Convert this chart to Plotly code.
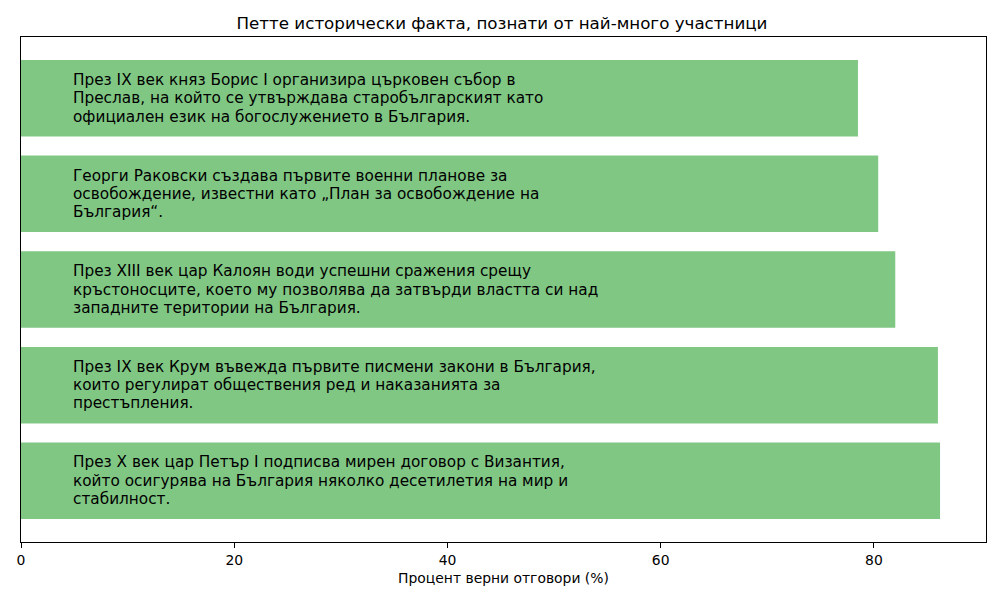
import plotly.graph_objects as go

title = "Петте исторически факта, познати от най-много участници"
x_label = "Процент верни отговори (%)"

# top-to-bottom order as shown
facts = [
    "През IX век княз Борис I организира църковен събор в<br>Преслав, на който се утвърждава старобългарският като<br>официален език на богослужението в България.",
    "Георги Раковски създава първите военни планове за<br>освобождение, известни като „План за освобождение на<br>България“.",
    "През XIII век цар Калоян води успешни сражения срещу<br>кръстоносците, което му позволява да затвърди властта си над<br>западните територии на България.",
    "През IX век Крум въвежда първите писмени закони в България,<br>които регулират обществения ред и наказанията за<br>престъпления.",
    "През X век цар Петър I подписва мирен договор с Византия,<br>който осигурява на България няколко десетилетия на мир и<br>стабилност.",
]
values = [78.5, 80.4, 82.0, 86.0, 86.2]
x_ticks = [0, 20, 40, 60, 80]

cats = list(reversed(facts))
vals = list(reversed(values))
ids = [f"f{i}" for i in range(len(cats))]

font = "DejaVu Sans"
fig = go.Figure()
fig.add_trace(go.Bar(
    x=vals, y=ids, orientation="h",
    marker=dict(color="#81c784", line=dict(width=0)),
    width=0.8, hoverinfo="skip",
))

line_h = 18.3
annotations = []
for cid, text in zip(ids, cats):
    lines = text.split("<br>")
    m = len(lines)
    for i, ln in enumerate(lines):
        annotations.append(dict(
            x=5, y=cid, xref="x", yref="y", text=ln, showarrow=False,
            xanchor="left", yanchor="middle", align="left",
            xshift=-3, yshift=((m - 1) / 2 - i) * line_h,
            font=dict(family=font, size=15.3, color="black"),
        ))

n = len(cats)
fig.update_layout(
    width=992, height=592, autosize=False,
    margin=dict(l=9, r=14, t=29, b=58),
    paper_bgcolor="white", plot_bgcolor="white",
    font=dict(family=font, color="black"),
    showlegend=False,
    title=dict(text=title, x=0.498, xanchor="center", y=0.975, yanchor="middle",
               font=dict(family=font, size=16.7, color="black")),
    annotations=annotations,
    bargap=0.2,
)
fig.update_xaxes(
    range=[0, max(values) * 1.05], tickvals=x_ticks, ticktext=[str(t) for t in x_ticks],
    ticks="outside", ticklen=5, tickwidth=1, tickcolor="black",
    showline=True, linecolor="black", linewidth=1, mirror=True,
    showgrid=False, zeroline=False,
    tickfont=dict(family=font, size=13.9, color="black"),
    title=dict(text=x_label, font=dict(family=font, size=13.9, color="black"), standoff=6),
)
fig.update_yaxes(
    type="category", categoryorder="array", categoryarray=ids,
    range=[-0.64, n - 1 + 0.64], showticklabels=False, ticks="",
    showline=True, linecolor="black", linewidth=1, mirror=True,
    showgrid=False, zeroline=False,
)
fig.write_html("out.html")
